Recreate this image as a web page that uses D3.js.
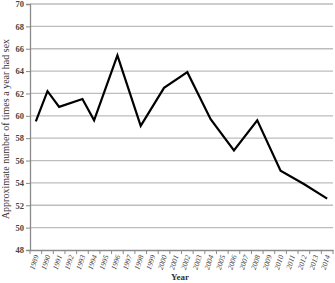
<!DOCTYPE html>
<html><head><meta charset="utf-8">
<script src="https://cdn.jsdelivr.net/npm/d3@7"></script>
<style>body{margin:0;background:#fff}svg{display:block}</style>
</head><body>
<script>
const years = d3.range(1989, 2015).map(String);
const surveyYears = [1989, 1990, 1991, 1993, 1994, 1996, 1998, 2000, 2002, 2004, 2006, 2008, 2010, 2012, 2014];
const timesPerYear = [59.5, 62.2, 60.8, 61.5, 59.6, 65.4, 59.1, 62.5, 63.9, 59.7, 56.9, 59.6, 55.1, 53.9, 52.6];
const yTicks = [48, 50, 52, 54, 56, 58, 60, 62, 64, 66, 68, 70];

const W = 335, H = 283;
const m = {l: 30, r: 2, t: 4, b: 33};
const svg = d3.select("body").append("svg").attr("width", W).attr("height", H);
const x = d3.scaleBand().domain(years).range([m.l, W - m.r]);
const y = d3.scaleLinear().domain([48, 70]).range([H - m.b, m.t]);
const serif = "'Liberation Serif', 'DejaVu Serif', serif";

// gridlines
svg.append("g").selectAll("line").data(yTicks.filter(d => d > 48)).join("line")
  .attr("x1", m.l).attr("x2", W - m.r)
  .attr("y1", d => y(d)).attr("y2", d => y(d))
  .attr("stroke", "#bdbdbd").attr("stroke-width", 1.3);

// y axis
const ya = svg.append("g").attr("transform", `translate(${m.l},0)`)
  .call(d3.axisLeft(y).tickValues(yTicks).tickSize(4).tickFormat(d3.format("d")));
ya.select(".domain").attr("stroke", "#8a8a8a").attr("stroke-width", 1.3);
ya.selectAll(".tick line").attr("stroke", "#8a8a8a");
ya.selectAll("text").attr("font-family", serif).attr("font-size", 8.5).attr("font-weight", "bold")
  .attr("fill", "#444").attr("x", -6);

// x axis
const xa = svg.append("g").attr("transform", `translate(0,${H - m.b})`)
  .call(d3.axisBottom(x).tickSize(0));
xa.select(".domain").attr("stroke", "#8a8a8a").attr("stroke-width", 1.3);
xa.selectAll(".tick line").remove();
// boundary ticks
xa.selectAll("line.bt").data(years.concat(["end"])).join("line").attr("class", "bt")
  .attr("x1", (d, i) => m.l + i * x.step()).attr("x2", (d, i) => m.l + i * x.step())
  .attr("y1", 0).attr("y2", 4).attr("stroke", "#8a8a8a");
xa.selectAll(".tick text")
  .attr("font-family", serif).attr("font-size", 7.5).attr("font-style", "italic").attr("fill", "#444")
  .attr("text-anchor", "end").attr("dy", 0).attr("y", 0)
  .attr("transform", "translate(3,6) rotate(-72)");

// line
svg.append("path")
  .datum(surveyYears.map((yr, i) => [yr, timesPerYear[i]]))
  .attr("fill", "none").attr("stroke", "#000").attr("stroke-width", 2.2)
  .attr("stroke-linejoin", "miter")
  .attr("d", d3.line().x(d => x(String(d[0])) + x.bandwidth() / 2).y(d => y(d[1])));

// titles
svg.append("text").attr("x", 180).attr("y", 280).attr("text-anchor", "middle")
  .attr("font-family", serif).attr("font-size", 9).attr("font-weight", "bold").attr("fill", "#333")
  .text("Year");
svg.append("text").attr("transform", `translate(9,${(m.t + H - m.b) / 2 + 2}) rotate(-90)`)
  .attr("text-anchor", "middle").attr("font-family", serif).attr("font-size", 10).attr("fill", "#333")
  .text("Approximate number of times a year had sex");
</script>
</body></html>
